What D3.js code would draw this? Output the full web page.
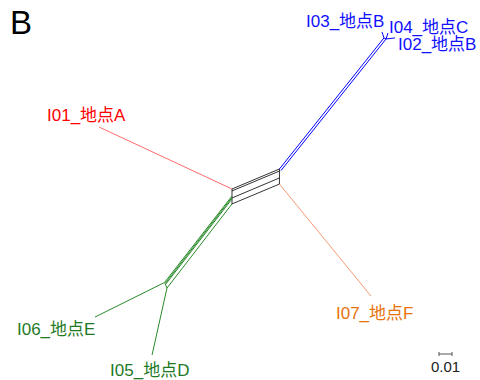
<!DOCTYPE html>
<html><head><meta charset="utf-8">
<script src="https://cdn.jsdelivr.net/npm/d3@7"></script>
<style>body{margin:0;background:#fff}svg{display:block}</style>
</head><body><div id="c"></div>
<script>
// Network node coordinates (substitutions per site; 0.01 = scale bar)
const nodeNames = ["L0","L1","L2","L3","L4","R0","R1","R2","R3",
  "A","F","T0","T1","B0","B1","I03","I04","I02",
  "G0s","G1s","G2s","G0e","G1e","G2e","Hs","He","I06","I05"];
const nodeX = [0,0,0,0,0,0.0365,0.0365,0.0365,0.0365,
  -0.1023,0.1069,0.1169,0.1185,0.0365,0.0377,0.1154,0.1200,0.1254,
  0,0,0,-0.0519,-0.0515,-0.0512,0,-0.0500,-0.1054,-0.0615];
const nodeY = [0,-0.0015,-0.0069,-0.0100,-0.0115,0.0154,0.0138,0.0085,0.0038,
  0.0477,-0.0823,0.1162,0.1154,0.0154,0.0142,0.1208,0.1200,0.1162,
  -0.0054,-0.0065,-0.0077,-0.0719,-0.0727,-0.0735,-0.0115,-0.0762,-0.0985,-0.1277];
// edges: [from, to, group]
const edges = [
  ["L0","R0","core"],["L1","R1","core"],["L2","R2","core"],["L4","R3","core"],
  ["L0","L4","core"],["R0","R3","core"],
  ["L0","A","A"],["R3","F","F"],
  ["B0","T0","blue"],["B1","T1","blue"],["T0","T1","blue"],
  ["T0","I03","blue"],["T1","I04","blue"],["T1","I02","blue"],
  ["G0s","G0e","green"],["G1s","G1e","green"],["G2s","G2e","green"],["Hs","He","green"],
  ["G1e","He","green"],["G0e","I06","green"],["He","I05","green"]
];
const leafLabels = ["I01_地点A","I03_地点B","I04_地点C","I02_地点B","I07_地点F","I06_地点E","I05_地点D"];
const leafNodes  = ["A","I03","I04","I02","F","I06","I05"];
const leafGroups = ["A","blue","blue","blue","F","green","green"];
const scaleBarValue = 0.01;
const scaleBarLabel = "0.01";
const panelLabel = "B";

const W=480,H=380;
const x=d3.scaleLinear().domain([-0.17846,0.19077]).range([0,W]);
const y=d3.scaleLinear().domain([0.14538,-0.14692]).range([0,H]);
const nodes={}; nodeNames.forEach((n,i)=>nodes[n]={x:nodeX[i],y:nodeY[i]});
const lineColor={core:"#000",A:"#ff2a2a",F:"#f0703a",blue:"#0000ff",green:"#2a8a2a"};
const lineW={core:0.8,A:0.7,F:0.7,blue:1,green:1};
const textColor={A:"#ff0000",F:"#e8730c",blue:"#1010ff",green:"#1f7a1f"};
const labelOffset={ // pixel offsets of label start/baseline relative to leaf
  A:[-52,-6], I03:[-76,-5], I04:[1,0], I02:[3,12], F:[-35,23], I06:[-78,18], I05:[-42,21]};

const svg=d3.select("#c").append("svg").attr("width",W).attr("height",H);
svg.append("g").selectAll("line").data(edges).join("line")
  .attr("x1",d=>x(nodes[d[0]].x)).attr("y1",d=>y(nodes[d[0]].y))
  .attr("x2",d=>x(nodes[d[1]].x)).attr("y2",d=>y(nodes[d[1]].y))
  .attr("stroke",d=>lineColor[d[2]]).attr("stroke-width",d=>lineW[d[2]]);

const font='"Liberation Sans","Noto Sans CJK JP",sans-serif';
svg.append("g").selectAll("text").data(leafLabels).join("text")
  .attr("x",(d,i)=>x(nodes[leafNodes[i]].x)+labelOffset[leafNodes[i]][0])
  .attr("y",(d,i)=>y(nodes[leafNodes[i]].y)+labelOffset[leafNodes[i]][1])
  .attr("fill",(d,i)=>textColor[leafGroups[i]])
  .style("font-family",font).style("font-size","17px").text(d=>d);

svg.append("text").attr("x",10).attr("y",34).style("font-family",font)
  .style("font-size","33px").attr("fill","#000").text(panelLabel);

// scale bar
const bx=439, by=354, bl=x(scaleBarValue)-x(0);
const sb=svg.append("g").attr("stroke","#555").attr("stroke-width",1);
sb.append("line").attr("x1",bx).attr("x2",bx+bl).attr("y1",by).attr("y2",by);
sb.append("line").attr("x1",bx).attr("x2",bx).attr("y1",by-2).attr("y2",by+2);
sb.append("line").attr("x1",bx+bl).attr("x2",bx+bl).attr("y1",by-2).attr("y2",by+2);
svg.append("text").attr("x",bx+bl/2).attr("y",372).attr("text-anchor","middle")
  .style("font-family",font).style("font-size","15px").attr("fill","#222").text(scaleBarLabel);
</script></body></html>
